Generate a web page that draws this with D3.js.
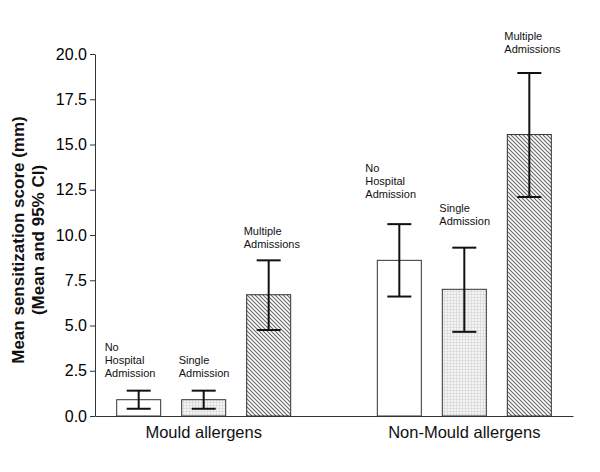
<!DOCTYPE html>
<html><head><meta charset="utf-8">
<script src="https://cdn.jsdelivr.net/npm/d3@7"></script>
<style>body{margin:0;background:#fff}svg{display:block}text{font-family:Arial,"Liberation Sans",sans-serif}</style>
</head><body><svg id="c" width="600" height="472"></svg>
<script>
const groups = ["Mould allergens", "Non-Mould allergens"];
const subgroups = ["No Hospital Admission", "Single Admission", "Multiple Admissions"];
const subLabels = [["No","Hospital","Admission"],["Single","Admission"],["Multiple","Admissions"]];
const means = [[0.9, 0.9, 6.7],[8.6, 7.0, 15.55]];
const ciLow = [[0.4, 0.4, 4.75],[6.6, 4.65, 12.1]];
const ciHigh = [[1.4, 1.4, 8.6],[10.6, 9.3, 18.95]];
const yTicks = [0, 2.5, 5, 7.5, 10, 12.5, 15, 17.5, 20];
const yTitle = ["Mean sensitization score (mm)", "(Mean and 95% CI)"];

(function(){
const svg = d3.select("#c");
const mLeft = 95, mRight = 573, mTop = 54, mBottom = 416;
const y = d3.scaleLinear().domain([0, 20]).range([mBottom, mTop]);
const x0 = d3.scalePoint().domain(groups).range([mLeft, mRight]).padding(0.417);
const x1 = d3.scaleBand().domain(subgroups).range([-97.5, 97.5]).paddingInner(0.323).paddingOuter(0.1615);

const defs = svg.append("defs");
const dot = defs.append("pattern").attr("id","grid").attr("patternUnits","userSpaceOnUse").attr("width",3).attr("height",3);
dot.append("rect").attr("width",3).attr("height",3).attr("fill","#f5f5f5");
dot.append("path").attr("d","M0,0.5H3M0.5,0V3").attr("stroke","#dedede").attr("stroke-width",1);
const hatch = defs.append("pattern").attr("id","hatch").attr("patternUnits","userSpaceOnUse").attr("width",4).attr("height",4);
hatch.append("rect").attr("width",4).attr("height",4).attr("fill","#fff");
hatch.append("path").attr("d","M-1,-1L5,5M-1,3L1,5M3,-1L5,1").attr("stroke","#666").attr("stroke-width",1.1);
const fills = ["#fff", "url(#grid)", "url(#hatch)"];
const labelDx = [-12, -3, -3];
const labelGap = [[14, 14, 12], [26, 23, 20]];

const yAxis = d3.axisLeft(y).tickValues(yTicks).tickFormat(d3.format(".1f")).tickSize(5).tickSizeOuter(0);
const gy = svg.append("g").attr("transform", `translate(${mLeft},0)`).call(yAxis);
gy.selectAll("text").attr("font-size", 16).attr("fill","#000").attr("font-family", "Arial, 'Liberation Sans', sans-serif");
gy.selectAll("line, path").attr("stroke", "#333");

const xAxis = d3.axisBottom(d3.scaleLinear().domain([0,1]).range([mLeft, mRight])).tickValues([]).tickSizeOuter(0);
const gx = svg.append("g").attr("transform", `translate(0,${mBottom})`).call(xAxis);
gx.select("path").attr("stroke", "#333");

groups.forEach((g, gi) => {
  const cx = x0(g);
  subgroups.forEach((s, si) => {
    const bx = cx + x1(s);
    const bw = x1.bandwidth();
    const mx = bx + bw / 2;
    svg.append("rect").attr("x", bx).attr("y", y(means[gi][si])).attr("width", bw)
      .attr("height", y(0) - y(means[gi][si])).attr("fill", fills[si]).attr("stroke", "#333").attr("stroke-width", 1);
    const eb = svg.append("g").attr("stroke", "#111").attr("stroke-width", 2);
    eb.append("line").attr("x1", mx).attr("x2", mx).attr("y1", y(ciLow[gi][si])).attr("y2", y(ciHigh[gi][si]));
    eb.append("line").attr("x1", mx - 12).attr("x2", mx + 12).attr("y1", y(ciLow[gi][si])).attr("y2", y(ciLow[gi][si]));
    eb.append("line").attr("x1", mx - 12).attr("x2", mx + 12).attr("y1", y(ciHigh[gi][si])).attr("y2", y(ciHigh[gi][si]));
    const lbl = subLabels[si];
    const n = lbl.length;
    const baseY = y(ciHigh[gi][si]) - labelGap[gi][si] - (n - 1) * 13;
    const t = svg.append("text").attr("font-size", 11).attr("fill", "#111");
    lbl.forEach((l, li) => t.append("tspan").attr("x", bx + labelDx[si]).attr("y", baseY + li * 13).text(l));
  });
  svg.append("text").attr("x", cx).attr("y", 438).attr("text-anchor", "middle").attr("font-size", 16.5).attr("fill", "#111").text(g);
});

const tt = svg.append("text").attr("transform", "translate(24,240) rotate(-90)").attr("text-anchor", "middle")
  .attr("font-size", 17).attr("font-weight", "bold").attr("fill", "#111");
yTitle.forEach((l, i) => tt.append("tspan").attr("x", 0).attr("y", i * 20).text(l));
})();
</script></body></html>
